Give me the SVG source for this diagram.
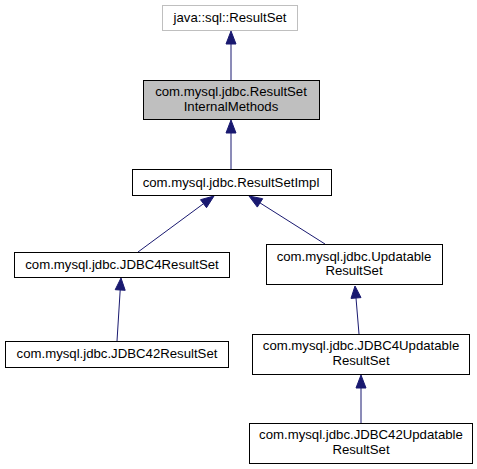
<svg xmlns="http://www.w3.org/2000/svg" width="477" height="469" viewBox="0 0 477 469">
<style>
.n rect{fill:#fff;stroke:#000;stroke-width:1}
.n text{font-family:"Liberation Sans",Arial,sans-serif;font-size:13.2px;fill:#000;text-anchor:middle}
.e line{stroke:#191970;stroke-width:1}
.e polygon{fill:#191970;stroke:#191970;stroke-width:1}
</style>
<rect width="477" height="469" fill="#fff"/>
<g class="e" id="edges">
<line x1="231" y1="80" x2="231" y2="44"/><polygon points="231,31 226,44 236,44"/>
<line x1="231" y1="169" x2="231" y2="133"/><polygon points="231,120 226,133 236,133"/>
<line x1="138" y1="252" x2="203.5" y2="203.7"/><polygon points="214,196 206.5,207.7 200.5,199.7"/>
<line x1="325" y1="244" x2="260" y2="202.9"/><polygon points="249,196 262.7,198.7 257.3,207.1"/>
<line x1="117" y1="341" x2="120.2" y2="290"/><polygon points="121,278 115.2,289.7 125.2,290.3"/>
<line x1="359" y1="334" x2="356" y2="298"/><polygon points="355,286 351,298.4 361,297.6"/>
<line x1="361" y1="423" x2="361" y2="388"/><polygon points="361,375 356,388 366,388"/>
</g>
<g class="n" id="node1"><rect x="162.5" y="5.5" width="135" height="25" style="stroke:#bfbfbf"/><text x="230" y="22">java::sql::ResultSet</text></g>
<g class="n" id="node2"><rect x="143.5" y="80.5" width="176" height="39" style="fill:#bfbfbf"/><text x="231" y="96">com.mysql.jdbc.ResultSet</text><text x="231" y="111">InternalMethods</text></g>
<g class="n" id="node3"><rect x="132.5" y="169.5" width="199" height="26"/><text x="231" y="187">com.mysql.jdbc.ResultSetImpl</text></g>
<g class="n" id="node4"><rect x="14.5" y="252.5" width="215" height="25"/><text x="122" y="269">com.mysql.jdbc.JDBC4ResultSet</text></g>
<g class="n" id="node5"><rect x="266.5" y="244.5" width="176" height="40"/><text x="354" y="261">com.mysql.jdbc.Updatable</text><text x="354" y="275">ResultSet</text></g>
<g class="n" id="node6"><rect x="5.5" y="341.5" width="223" height="26"/><text x="117" y="358">com.mysql.jdbc.JDBC42ResultSet</text></g>
<g class="n" id="node7"><rect x="252.5" y="334.5" width="217" height="40"/><text x="361" y="350">com.mysql.jdbc.JDBC4Updatable</text><text x="361" y="365">ResultSet</text></g>
<g class="n" id="node8"><rect x="249.5" y="423.5" width="223" height="40"/><text x="361" y="439">com.mysql.jdbc.JDBC42Updatable</text><text x="361" y="454">ResultSet</text></g>
</svg>
